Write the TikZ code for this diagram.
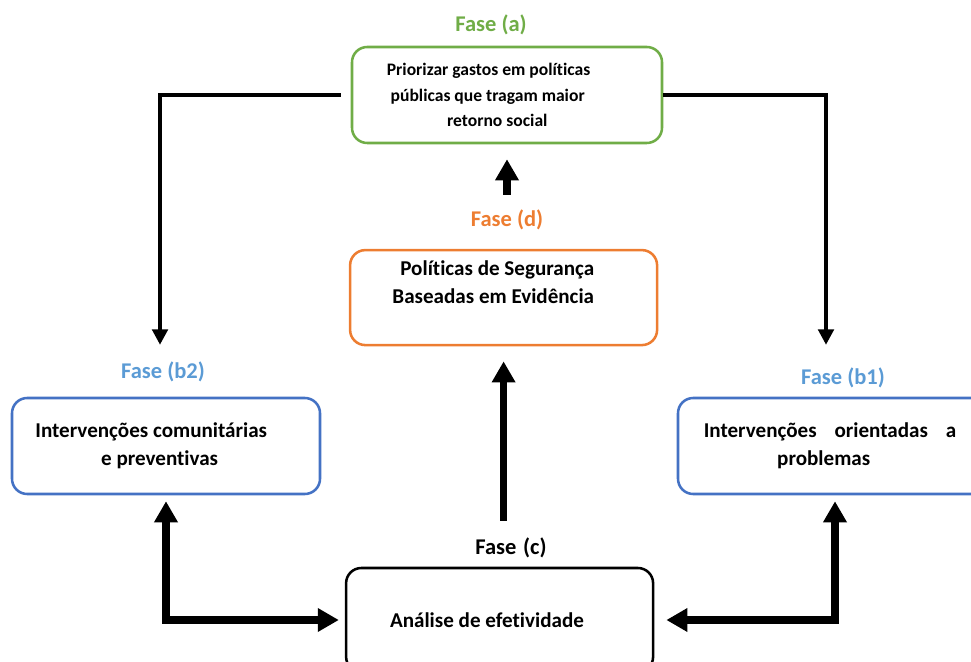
\documentclass[tikz,border=0pt]{standalone}
\usepackage{fontspec}
\setmainfont{Carlito}[Ligatures=NoCommon]
\usepackage{tikz}
\usetikzlibrary{arrows.meta,positioning,calc}
\definecolor{fgreen}{RGB}{112,173,71}
\definecolor{forange}{RGB}{237,125,49}
\definecolor{fblue}{RGB}{68,114,196}
\definecolor{flblue}{RGB}{91,155,213}
\tikzset{
  pbox/.style={draw, rounded corners=0.38cm, line width=1.8pt, align=center,
    font=\fontsize{15}{20}\selectfont\bfseries, inner sep=0pt},
  flab/.style={font=\fontsize{16}{19}\selectfont\bfseries},
  tarr/.style={-{Triangle[length=11pt,width=11pt]}, line width=2.6pt},
  barr/.style={-{Triangle[length=15pt,width=16pt]}, line width=5pt},
  darr/.style={{Triangle[length=15pt,width=16pt]}-{Triangle[length=15pt,width=16pt]}, line width=5pt},
}
\begin{document}
\begin{tikzpicture}
  \useasboundingbox (0,0) rectangle (24.275,-16.55);
  % boxes
  \node[pbox, draw=fgreen, minimum width=7.75cm, minimum height=2.4cm,
    font=\fontsize{12.5}{18}\selectfont\bfseries] (prior) at (12.675,-2.375)
    {Priorizar gastos em políticas\hspace*{2.1em}\mbox{}\\ públicas que tragam maior\hspace*{2.2em}\mbox{}\\ retorno social\hspace*{1.1em}\mbox{}};
  \node[pbox, draw=forange, minimum width=7.675cm, minimum height=2.375cm] (seg) at (12.59,-7.44)
    {Políticas de Segurança\hspace*{0.6em}\mbox{}\\ Baseadas em Evidência\hspace*{0.98em}\mbox{}\\[0.15em]};
  \node[pbox, draw=fblue, minimum width=7.7cm, minimum height=2.4cm] (comun) at (4.15,-11.15)
    {Intervenções comunitárias\hspace*{1.4em}\\ e preventivas\hspace*{0.6em}};
  \node[pbox, draw=fblue, minimum width=7.85cm, minimum height=2.4cm] (probl) at (20.875,-11.15)
    {Intervenções\hspace{0.85em}orientadas\hspace{0.85em}a\hspace*{0.47em}\\ problemas\hspace*{1.07em}};
  \node[pbox, draw=black, minimum width=7.675cm, minimum height=2.6cm] (anal) at (12.49,-15.5)
    {Análise de efetividade\hspace*{1.2em}};
  % labels
  \node[flab, text=fgreen] (fa) at (12.275,-0.625) {Fase (a)};
  \node[flab, text=forange] (fd) at (12.675,-5.5) {Fase (d)};
  \node[flab, text=flblue] (fb2) at (4.075,-9.3) {Fase (b2)};
  \node[flab, text=flblue] (fb1) at (21.075,-9.45) {Fase (b1)};
  \node[flab] (fc) at (12.775,-13.7) {Fase\hspace{0.3em}(c)};
  \coordinate (lb) at (4.0,-8.62);
  \coordinate (rb) at (20.65,-8.62);
  % connectors
  \draw[tarr, shorten <=0.25cm] (prior.west) -| (lb);
  \draw[tarr] (prior.east) -| (rb);
  \draw[barr, shorten <=0.25cm, shorten >=0.375cm] (fd.north -| prior.south) -- (prior.south);
  \draw[barr, shorten <=0.3cm, shorten >=0.375cm] (fc.north -| seg.south) -- (seg.south);
  \draw[darr, shorten <=0.15cm, shorten >=0.15cm] (comun.south) |- (anal.west);
  \draw[darr, shorten <=0.15cm, shorten >=0.3cm] (probl.south) |- (anal.east);
\end{tikzpicture}
\end{document}
